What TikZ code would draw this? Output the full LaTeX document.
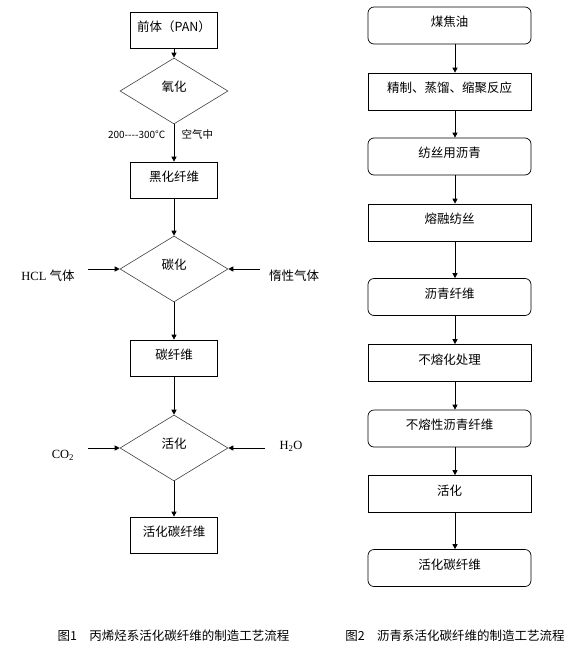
\documentclass[tikz,border=0pt]{standalone}
\usepackage{fontspec}
\setmainfont{Liberation Serif}
\newfontfamily\cjk{Noto Sans CJK SC}
\usetikzlibrary{shapes.geometric,arrows.meta}

\tikzset{
  flow/.style={-{Triangle[length=5pt,width=5pt]}, line width=0.8pt},
  stepbox/.style={draw, line width=0.7pt, minimum width=87pt, minimum height=36pt, inner sep=0pt,
    text height=9pt, text depth=7pt, font=\cjk\fontsize{12.5}{14}\selectfont},
  widebox/.style={stepbox, minimum width=163pt, minimum height=37pt},
  roundbox/.style={widebox, rounded corners=6pt},
  decide/.style={draw=black!75, line width=0.6pt, diamond, aspect=1.64, inner sep=0pt,
    minimum width=108pt, minimum height=66pt, text height=9pt, text depth=9pt,
    font=\cjk\fontsize{12.5}{14}\selectfont},
  side/.style={font=\fontsize{12.5}{14}\selectfont}
}

\begin{document}
\begin{tikzpicture}[x=1pt,y=-1pt]
\useasboundingbox (0,0) rectangle (586,656);

% left chart: PAN route
\node[stepbox] (pan) at (174,30) {前体（PAN）};
\node[decide] (oxid) at (174,91) {氧化};
\node[stepbox] (black) at (174,180) {黑化纤维};
\node[decide] (carb) at (174,269) {碳化};
\node[stepbox] (cf) at (174,358) {碳纤维};
\node[decide] (act) at (174,448) {活化};
\node[stepbox] (acf) at (174,535) {活化碳纤维};

\draw[flow] (pan) -- (oxid);
\draw[flow] (oxid) -- (black)
  node[pos=0.28, left=5pt, font=\cjk\fontsize{10}{12}\selectfont] (temp) {200----300°C}
  node[pos=0.28, right=4pt, font=\cjk\fontsize{10.5}{12}\selectfont] (air) {空气中};
\draw[flow] (black) -- (carb);
\draw[flow] (carb) -- (cf);
\draw[flow] (cf) -- (act);
\draw[flow] (act) -- (acf);

% gas feeds
\node[side] (hcl) at (48,276) {HCL {\cjk 气体}};
\node[side, font=\cjk\fontsize{12.5}{14}\selectfont] (inert) at (294,276) {惰性气体};
\coordinate (hclin) at (88,269);
\coordinate (inertin) at (260,269);
\draw[flow] (hclin) -- (carb.west);
\draw[flow] (inertin) -- (carb.east);

\node[side] (co2) at (63,455) {CO\textsubscript{2}};
\node[side] (h2o) at (291,446) {H\textsubscript{2}O};
\coordinate (co2in) at (88,448);
\coordinate (h2oin) at (265,448);
\draw[flow] (co2in) -- (act.west);
\draw[flow] (h2oin) -- (act.east);

% right chart: pitch route
\foreach \n/\t/\s/\y in {s1/煤焦油/roundbox/25.5, s2/精制、蒸馏、缩聚反应/widebox/91.5,
    s3/纺丝用沥青/roundbox/156.5, s4/熔融纺丝/widebox/222.5, s5/沥青纤维/roundbox/297,
    s6/不熔化处理/widebox/363, s7/不熔性沥青纤维/roundbox/428.5, s8/活化/widebox/494,
    s9/活化碳纤维/roundbox/568}
  \node[\s] (\n) at (449.5,\y) {\t};

\foreach \a/\b in {s1/s2,s2/s3,s3/s4,s4/s5,s5/s6,s6/s7,s7/s8,s8/s9}
  \draw[flow] ([xshift=5.5pt]\a.south) -- ([xshift=5.5pt]\b.north);

% captions
\node[font=\cjk\fontsize{12.5}{14}\selectfont] (cap1) at (173.5,636) {图1\quad 丙烯烃系活化碳纤维的制造工艺流程};
\node[font=\cjk\fontsize{12.5}{14}\selectfont] (cap2) at (455,636) {图2\quad 沥青系活化碳纤维的制造工艺流程};
\end{tikzpicture}
\end{document}
